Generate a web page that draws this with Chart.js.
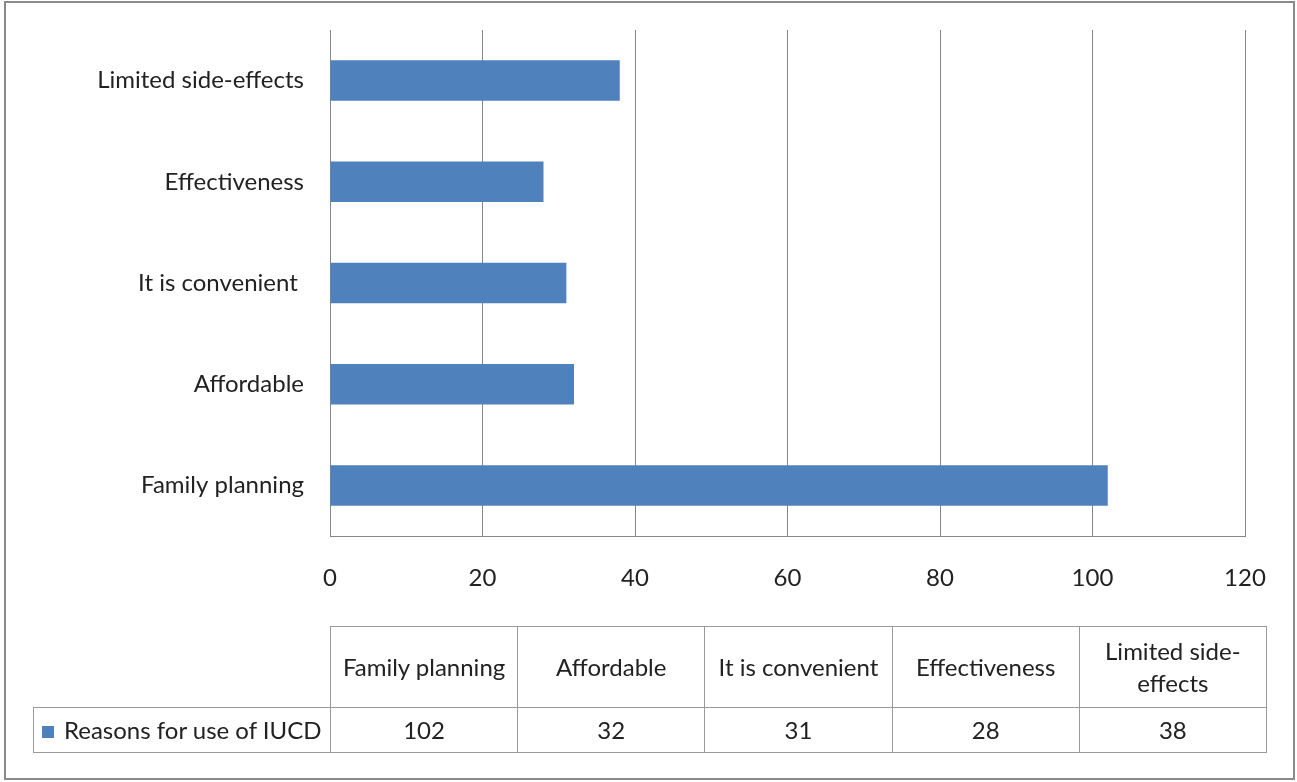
<!DOCTYPE html>
<html lang="en">
<head>
    <meta charset="UTF-8">
    <title>Reasons for use of IUCD</title>
    <style>
        body {
            margin: 0;
            background: #fff;
            font-family: Lato, 'Noto Sans', sans-serif;
            color: #222;
        }

        .frame {
            position: absolute;
            left: 4px;
            top: 1px;
            width: 1291px;
            height: 779px;
            border: 2px solid #8a8a8a;
            box-sizing: border-box;
        }

        #chart {
            position: absolute;
            left: 0;
            top: 0;
        }

        /* data table under the plot */
        #dataTable {
            position: absolute;
            left: 33px;
            top: 626px;
            border-collapse: collapse;
            table-layout: fixed;
            font-size: 24px;
        }
        #dataTable td {
            border: 1px solid #9a9a9a;
            text-align: center;
            padding: 0 4px;
            line-height: 32px;
        }
        #dataTable tr.head td { height: 80px; }
        #dataTable tr.vals td { height: 44px; }
        #dataTable td.blank {
            border-top: none;
            border-left: none;
        }
        #dataTable td.series {
            text-align: left;
            padding-left: 8px;
            white-space: nowrap;
        }
        .swatch {
            display: inline-block;
            width: 12px;
            height: 12px;
            background: #4f81bd;
            margin-right: 10px;
            vertical-align: 1px;
        }
    </style>
</head>
<body>
    <div class="frame"></div>
    <canvas id="chart" width="1297" height="782"></canvas>
    <table id="dataTable"></table>

    <script src="https://cdn.jsdelivr.net/npm/chart.js@4/dist/chart.umd.min.js"></script>
    <script>
        var categories = ['Family planning', 'Affordable', 'It is convenient ', 'Effectiveness', 'Limited side-effects'];
        var seriesName = 'Reasons for use of IUCD';
        var counts = [102, 32, 31, 28, 38];
        var axisMin = 0;
        var axisMax = 120;
        var axisStep = 20;

        var gridColor = '#868686';
        var textColor = '#222';

        // Build the data table below the chart
        var table = document.getElementById('dataTable');
        var colgroup = '<colgroup><col style="width:297px">';
        categories.forEach(function () { colgroup += '<col style="width:187.2px">'; });
        colgroup += '</colgroup>';
        var head = '<tr class="head"><td class="blank"></td>';
        categories.forEach(function (c) { head += '<td>' + c.trim() + '</td>'; });
        head += '</tr>';
        var vals = '<tr class="vals"><td class="series"><span class="swatch"></span>' + seriesName + '</td>';
        counts.forEach(function (v) { vals += '<td>' + v + '</td>'; });
        vals += '</tr>';
        table.innerHTML = colgroup + head + vals;

        // Horizontal bar chart
        var ctx = document.getElementById('chart').getContext('2d');
        var chart = new Chart(ctx, {
            type: 'bar',
            data: {
                labels: categories,
                datasets: [{
                    label: seriesName,
                    data: counts,
                    backgroundColor: '#4f81bd',
                    borderWidth: 0,
                    categoryPercentage: 1,
                    barPercentage: 0.4
                }]
            },
            options: {
                indexAxis: 'y',
                responsive: false,
                animation: false,
                devicePixelRatio: 1,
                layout: {
                    padding: { left: 10, right: 52, top: 30, bottom: 186 }
                },
                plugins: {
                    legend: { display: false },
                    tooltip: { enabled: false }
                },
                scales: {
                    x: {
                        min: axisMin,
                        max: axisMax,
                        ticks: {
                            stepSize: axisStep,
                            color: textColor,
                            font: { family: 'Lato', size: 24 },
                            padding: 28
                        },
                        grid: {
                            color: gridColor,
                            lineWidth: 1,
                            drawTicks: false
                        },
                        border: { color: gridColor, width: 1 },
                        afterFit: function (scale) { scale.height = 60; }
                    },
                    y: {
                        reverse: true,
                        ticks: {
                            color: textColor,
                            font: { family: 'Lato', size: 24 },
                            padding: 26
                        },
                        grid: { display: false, drawTicks: false },
                        border: { color: gridColor, width: 1 },
                        afterFit: function (scale) {
                            // fixed label column; labels sit inside the bands so no extra top/bottom room
                            scale.width = 320;
                            scale.paddingTop = 0;
                            scale.paddingBottom = 0;
                        }
                    }
                }
            }
        });
    </script>
</body>
</html>
